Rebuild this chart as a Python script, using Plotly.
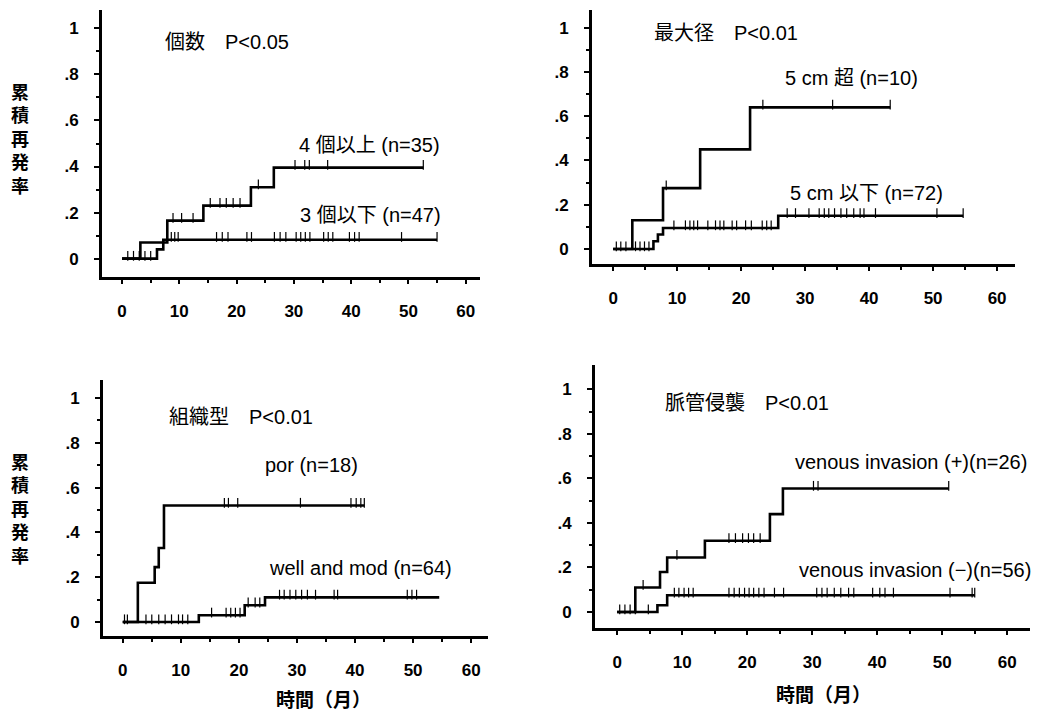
import plotly.graph_objects as go
import numpy as np

# ---------------- data ----------------
# Panel 1: 個数
p1_hi_t = [0, 3.2, 7.9, 14.2, 22.5, 26.5, 52.6]
p1_hi_v = [0.0, 0.07, 0.165, 0.23, 0.31, 0.395, 0.395]
p1_hi_c = [8.9, 10.4, 12.4, 15.4, 17.1, 18.2, 19.4, 20.6, 23.8, 30.2, 31.9, 32.7, 35.9, 52.6]
p1_lo_t = [0, 6.1, 7.2, 55.0]
p1_lo_v = [0.0, 0.04, 0.082, 0.082]
p1_lo_c = [1.0, 2.0, 3.0, 4.0, 5.0, 8.6, 9.2, 9.8, 16.5, 17.5, 18.5, 21.8, 22.6, 26.6, 27.6, 28.6,
           30.4, 31.2, 32.0, 32.8, 35.2, 36.0, 36.8, 39.7, 40.6, 41.4, 48.8, 55.0]

# Panel 2: 最大径
p2_hi_t = [0, 3.0, 7.8, 13.6, 21.4, 43.3]
p2_hi_v = [0.0, 0.13, 0.275, 0.45, 0.64, 0.64]
p2_hi_c = [8.3, 23.4, 34.3, 43.3]
p2_lo_t = [0, 6.3, 7.0, 7.8, 25.8, 54.7]
p2_lo_v = [0.0, 0.035, 0.065, 0.095, 0.15, 0.15]
p2_lo_c = [0.5, 1.2, 2.0, 3.5, 4.2, 4.9, 5.6, 9.5, 11.3, 12.0, 12.6, 13.2, 14.8, 16.0, 16.7, 17.3,
           18.6, 19.3, 20.7, 21.6, 23.3, 24.0, 24.7, 27.2, 28.5, 30.6, 32.2, 33.0, 33.7, 34.6,
           35.6, 36.5, 37.6, 38.6, 39.2, 41.0, 50.6, 54.7]

# Panel 3: 組織型
p3_hi_t = [0, 2.6, 5.5, 6.2, 7.1, 41.6]
p3_hi_v = [0.0, 0.175, 0.245, 0.33, 0.52, 0.52]
p3_hi_c = [17.5, 18.2, 19.8, 30.6, 39.3, 40.2, 41.0, 41.6]
p3_lo_t = [0, 13.1, 21.0, 24.5, 54.5]
p3_lo_v = [0.0, 0.03, 0.075, 0.11, 0.11]
p3_lo_c = [0.3, 0.8, 4.0, 5.0, 6.2, 7.3, 8.4, 9.6, 10.3, 11.2, 15.3, 17.8, 18.6, 19.4, 20.2,
           21.6, 22.8, 23.6, 27.0, 27.8, 28.8, 29.8, 30.8, 31.8, 33.2, 36.4, 37.0, 49.0, 49.8, 50.6]

# Panel 4: 脈管侵襲
p4_hi_t = [0, 2.8, 6.6, 7.7, 13.5, 23.5, 25.5, 51.0]
p4_hi_v = [0.0, 0.11, 0.18, 0.245, 0.32, 0.44, 0.555, 0.555]
p4_hi_c = [4.0, 9.2, 17.2, 18.2, 19.3, 20.2, 21.0, 22.0, 30.2, 30.9, 51.0]
p4_lo_t = [0, 6.2, 7.7, 55.0]
p4_lo_v = [0.0, 0.03, 0.075, 0.075]
p4_lo_c = [0.4, 1.2, 2.0, 2.8, 4.8, 8.8, 9.5, 10.3, 11.0, 11.7, 17.2, 18.0, 18.8, 19.6, 20.3, 21.0,
           21.8, 22.6, 24.2, 25.6, 30.7, 31.5, 32.3, 33.4, 34.4, 35.6, 36.4, 39.3, 40.4, 41.2,
           42.5, 51.2, 54.6, 55.0]

x_ticks = [0, 10, 20, 30, 40, 50, 60]
y_ticks = [0, 0.2, 0.4, 0.6, 0.8, 1.0]
y_ticktext = ["0", ".2", ".4", ".6", ".8", "1"]

titles = ["個数　P<0.05", "最大径　P<0.01", "組織型　P<0.01", "脈管侵襲　P<0.01"]
labels_hi = ["4 個以上 (n=35)", "5 cm 超 (n=10)", "por (n=18)", "venous invasion (+)(n=26)"]
labels_lo = ["3 個以下 (n=47)", "5 cm 以下 (n=72)", "well and mod (n=64)", "venous invasion (−)(n=56)"]
y_title = "累積再発率"
x_title = "時間（月）"

# ---------------- layout geometry ----------------
W, H = 1059, 719
panels = [
    dict(xd=(102, 480), yd=(10, 277), xr=(-3.5, 62.5), yr=(-0.08, 1.08)),
    dict(xd=(592, 1015), yd=(10, 264), xr=(-3.3, 62.8), yr=(-0.068, 1.08)),
    dict(xd=(103, 488), yd=(380, 636), xr=(-3.4, 62.9), yr=(-0.0625, 1.08)),
    dict(xd=(595, 1030), yd=(365, 628), xr=(-3.4, 63.5), yr=(-0.072, 1.11)),
]

FONT = "Liberation Sans, Arial, Noto Sans CJK JP"
fig = go.Figure()

data = [
    (p1_hi_t, p1_hi_v, p1_hi_c, p1_lo_t, p1_lo_v, p1_lo_c),
    (p2_hi_t, p2_hi_v, p2_hi_c, p2_lo_t, p2_lo_v, p2_lo_c),
    (p3_hi_t, p3_hi_v, p3_hi_c, p3_lo_t, p3_lo_v, p3_lo_c),
    (p4_hi_t, p4_hi_v, p4_hi_c, p4_lo_t, p4_lo_v, p4_lo_c),
]


def step_at(ts, vs, c):
    idx = np.searchsorted(np.array(ts), c, side="right") - 1
    return vs[max(idx, 0)]


layout = dict(
    width=W, height=H, margin=dict(l=0, r=0, t=0, b=0),
    paper_bgcolor="white", plot_bgcolor="white", showlegend=False,
    font=dict(family=FONT, color="black"),
)
annotations = []

for i, (p, d) in enumerate(zip(panels, data)):
    k = "" if i == 0 else str(i + 1)
    xa, ya = "x" + k, "y" + k
    for (ts, vs, cs) in [(d[0], d[1], d[2]), (d[3], d[4], d[5])]:
        fig.add_trace(go.Scatter(x=ts, y=vs, mode="lines", line=dict(shape="hv", color="black", width=2.6),
                                 xaxis=xa, yaxis=ya, hoverinfo="skip"))
        cy = [step_at(ts, vs, c) + 0.012 for c in cs]
        fig.add_trace(go.Scatter(x=cs, y=cy, mode="markers",
                                 marker=dict(symbol="line-ns", size=7, line=dict(color="black", width=1.2)),
                                 xaxis=xa, yaxis=ya, hoverinfo="skip"))
    x0, x1 = p["xd"]
    t0, t1 = p["yd"]
    layout["xaxis" + k] = dict(
        domain=[x0 / W, x1 / W], range=list(p["xr"]), anchor=ya,
        tickvals=x_ticks, ticks="outside", ticklen=4, tickwidth=2, tickcolor="black",
        showline=True, linecolor="black", linewidth=3, showgrid=False, zeroline=False,
        tickfont=dict(size=17, family=FONT, weight="bold"), ticklabelstandoff=13,
        minor=dict(tickvals=[5, 15, 25, 35, 45, 55], ticks="outside", ticklen=3, tickcolor="black"),
    )
    layout["yaxis" + k] = dict(
        domain=[1 - t1 / H, 1 - t0 / H], range=list(p["yr"]), anchor=xa,
        tickvals=y_ticks, ticktext=y_ticktext, ticks="outside", ticklen=5, tickwidth=2, tickcolor="black",
        showline=True, linecolor="black", linewidth=3, showgrid=False, zeroline=False,
        tickfont=dict(size=17, family=FONT, weight="bold"), ticklabelstandoff=12,
        minor=dict(tickvals=[0.1, 0.3, 0.5, 0.7, 0.9], ticks="outside", ticklen=3, tickcolor="black"),
    )

# text positions (pixels)
title_pos = [(163, 42), (652, 33), (167, 417), (663, 403)]
hi_pos = [(297, 145), (783, 78), (263, 465), (793, 462)]
lo_pos = [(298, 215), (788, 193), (267, 568), (797, 570)]

for i in range(4):
    for (txt, (px, py)) in [(titles[i], title_pos[i]), (labels_hi[i], hi_pos[i]), (labels_lo[i], lo_pos[i])]:
        annotations.append(dict(text=txt, x=px / W, y=1 - py / H, xref="paper", yref="paper",
                                xanchor="left", yanchor="middle", showarrow=False,
                                font=dict(size=20, family=FONT, color="black")))

for (px, py) in [(20, 140), (20, 510)]:
    annotations.append(dict(text="<br>".join(list(y_title)), x=px / W, y=1 - py / H, xref="paper", yref="paper",
                            xanchor="center", yanchor="middle", showarrow=False,
                            font=dict(size=18, family=FONT, color="black", weight="bold")))

for (px, py) in [(323, 700), (823, 695)]:
    annotations.append(dict(text=x_title, x=px / W, y=1 - py / H, xref="paper", yref="paper",
                            xanchor="center", yanchor="middle", showarrow=False,
                            font=dict(size=19, family=FONT, color="black", weight="bold")))

layout["annotations"] = annotations
fig.update_layout(**layout)
fig.write_html("out.html")
